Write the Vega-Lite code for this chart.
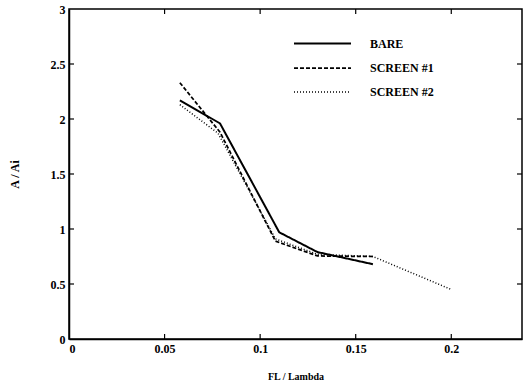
{
  "$schema": "https://vega.github.io/schema/vega-lite/v6.json",
  "autosize": "none",
  "width": 453,
  "height": 330,
  "padding": {"left": 69, "top": 9, "right": 1, "bottom": 43},
  "background": "white",
  "config": {
    "view": {"stroke": "black", "strokeWidth": 1.5},
    "axis": {
      "labelFont": "Liberation Serif",
      "labelFontWeight": "bold",
      "labelFontSize": 12,
      "labelColor": "black",
      "titleFont": "Liberation Serif",
      "titleFontWeight": "bold",
      "titleColor": "black",
      "domainColor": "black",
      "domainWidth": 1.5,
      "ticks": false,
      "grid": false
    }
  },
  "datasets": {
    "lines": [
      {"x": 0.058, "y": 2.17, "series": "BARE"},
      {"x": 0.079, "y": 1.96, "series": "BARE"},
      {"x": 0.11, "y": 0.97, "series": "BARE"},
      {"x": 0.13, "y": 0.79, "series": "BARE"},
      {"x": 0.159, "y": 0.68, "series": "BARE"},
      {"x": 0.058, "y": 2.33, "series": "SCREEN #1"},
      {"x": 0.079, "y": 1.88, "series": "SCREEN #1"},
      {"x": 0.108, "y": 0.89, "series": "SCREEN #1"},
      {"x": 0.13, "y": 0.755, "series": "SCREEN #1"},
      {"x": 0.159, "y": 0.75, "series": "SCREEN #1"},
      {"x": 0.058, "y": 2.13, "series": "SCREEN #2"},
      {"x": 0.078, "y": 1.87, "series": "SCREEN #2"},
      {"x": 0.108, "y": 0.91, "series": "SCREEN #2"},
      {"x": 0.13, "y": 0.77, "series": "SCREEN #2"},
      {"x": 0.159, "y": 0.75, "series": "SCREEN #2"},
      {"x": 0.2, "y": 0.45, "series": "SCREEN #2"}
    ],
    "xticks": [{"x": 0.05}, {"x": 0.1}, {"x": 0.15}, {"x": 0.2}],
    "yticks": [{"y": 0.5}, {"y": 1}, {"y": 1.5}, {"y": 2}, {"y": 2.5}]
  },
  "layer": [
    {
      "data": {"name": "lines"},
      "mark": {"type": "line", "color": "black"},
      "encoding": {
        "x": {
          "field": "x", "type": "quantitative",
          "scale": {"domain": [0, 0.237], "nice": false, "zero": false},
          "axis": {"title": "FL / Lambda", "titleFontSize": 10, "values": [0, 0.05, 0.1, 0.15, 0.2], "format": "~g", "labelPadding": 4, "titlePadding": 17}
        },
        "y": {
          "field": "y", "type": "quantitative",
          "scale": {"domain": [0, 3], "nice": false},
          "axis": {"title": "A / Ai", "titleFontSize": 12, "values": [0, 0.5, 1, 1.5, 2, 2.5, 3], "format": "~g", "labelPadding": 4, "titlePadding": 29}
        },
        "strokeDash": {
          "field": "series", "type": "ordinal",
          "scale": {"domain": ["BARE", "SCREEN #1", "SCREEN #2"], "range": [[1, 0], [4, 2], [1, 2]]},
          "legend": {
            "title": null, "orient": "none", "legendX": 245, "legendY": 26,
            "symbolType": "M-4,0H4", "symbolSize": 203, "symbolStrokeColor": "black", "symbolFillColor": "transparent",
            "labelFont": "Liberation Serif", "labelFontWeight": "bold", "labelFontSize": 12,
            "labelColor": "black", "labelOffset": 39, "rowPadding": 10
          }
        },
        "strokeWidth": {
          "field": "series", "type": "ordinal",
          "scale": {"domain": ["BARE", "SCREEN #1", "SCREEN #2"], "range": [2, 1.5, 1]},
          "legend": null
        }
      }
    },
    {
      "data": {"name": "xticks"},
      "mark": {"type": "tick", "orient": "vertical", "size": 5, "thickness": 1.2, "color": "black", "opacity": 1, "yOffset": -2.5},
      "encoding": {
        "x": {"field": "x", "type": "quantitative"},
        "y": {"datum": 0, "type": "quantitative"}
      }
    },
    {
      "data": {"name": "xticks"},
      "mark": {"type": "tick", "orient": "vertical", "size": 5, "thickness": 1.2, "color": "black", "opacity": 1, "yOffset": 2.5},
      "encoding": {
        "x": {"field": "x", "type": "quantitative"},
        "y": {"datum": 3, "type": "quantitative"}
      }
    },
    {
      "data": {"name": "yticks"},
      "mark": {"type": "tick", "orient": "horizontal", "size": 5, "thickness": 1.2, "color": "black", "opacity": 1, "xOffset": 2.5},
      "encoding": {
        "y": {"field": "y", "type": "quantitative"},
        "x": {"datum": 0, "type": "quantitative"}
      }
    },
    {
      "data": {"name": "yticks"},
      "mark": {"type": "tick", "orient": "horizontal", "size": 5, "thickness": 1.2, "color": "black", "opacity": 1, "xOffset": -2.5},
      "encoding": {
        "y": {"field": "y", "type": "quantitative"},
        "x": {"datum": 0.237, "type": "quantitative"}
      }
    }
  ]
}
